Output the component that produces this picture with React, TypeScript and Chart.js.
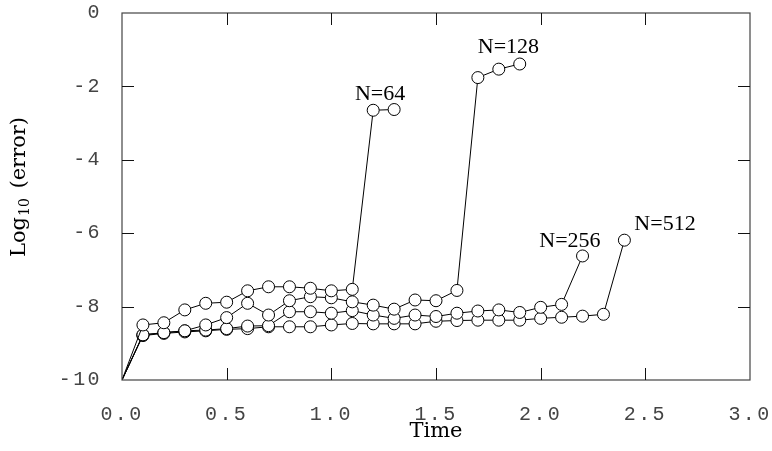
import { useEffect, useRef } from 'react';
import { Chart, registerables } from 'chart.js';

Chart.register(...registerables);

// ---- Data ----
const times64 = [0, 0.1, 0.2, 0.3, 0.4, 0.5, 0.6, 0.7, 0.8, 0.9, 1.0, 1.1, 1.2, 1.3];
const err64 = [-10, -8.50, -8.44, -8.09, -7.91, -7.88, -7.57, -7.46, -7.46, -7.50, -7.57, -7.53, -2.65, -2.63];

const times128 = [0, 0.1, 0.2, 0.3, 0.4, 0.5, 0.6, 0.7, 0.8, 0.9, 1.0, 1.1, 1.2, 1.3, 1.4, 1.5, 1.6, 1.7, 1.8, 1.9];
const err128 = [-10, -8.77, -8.71, -8.66, -8.50, -8.30, -7.91, -8.23, -7.84, -7.73, -7.76, -7.87, -7.96, -8.07, -7.82, -7.84, -7.56, -1.76, -1.53, -1.39];

const times256 = [0, 0.1, 0.2, 0.3, 0.4, 0.5, 0.6, 0.7, 0.8, 0.9, 1.0, 1.1, 1.2, 1.3, 1.4, 1.5, 1.6, 1.7, 1.8, 1.9, 2.0, 2.1, 2.2];
const err256 = [-10, -8.77, -8.71, -8.66, -8.64, -8.60, -8.53, -8.52, -8.14, -8.14, -8.18, -8.11, -8.23, -8.32, -8.23, -8.27, -8.18, -8.12, -8.09, -8.16, -8.02, -7.94, -6.62];

const times512 = [0, 0.1, 0.2, 0.3, 0.4, 0.5, 0.6, 0.7, 0.8, 0.9, 1.0, 1.1, 1.2, 1.3, 1.4, 1.5, 1.6, 1.7, 1.8, 1.9, 2.0, 2.1, 2.2, 2.3, 2.4];
const err512 = [-10, -8.79, -8.73, -8.69, -8.66, -8.62, -8.60, -8.55, -8.55, -8.55, -8.50, -8.46, -8.47, -8.47, -8.47, -8.40, -8.38, -8.37, -8.37, -8.37, -8.32, -8.29, -8.26, -8.21, -6.19];

const seriesNames = ['N=64', 'N=128', 'N=256', 'N=512'];
const seriesTimes = [times64, times128, times256, times512];
const seriesErrors = [err64, err128, err256, err512];

// label anchor positions (data coordinates, centre x / baseline y)
const labelX = [1.233, 1.846, 2.14, 2.594];
const labelY = [-2.37, -1.10, -6.37, -5.91];

const xMin = 0;
const xMax = 3;
const xStep = 0.5;
const yMin = -10;
const yMax = 0;
const yStep = 2;

const xTitle = 'Time';
const yTitleMain = 'Log';
const yTitleSub = '10';
const yTitleRest = ' (error)';

const tickFont = '"Liberation Mono", "DejaVu Sans Mono", monospace';
const serifTitle = '"DejaVu Serif", serif';
const serifLabel = '"Liberation Serif", "Times New Roman", serif';
const tickSpacing = '2.4px';

const spacingPlugin = {
  id: 'tickSpacing',
  beforeLayout(chart: any) {
    chart.ctx.letterSpacing = tickSpacing;
  },
  beforeDraw(chart: any) {
    chart.ctx.letterSpacing = tickSpacing;
  },
};

const framePlugin = {
  id: 'frameAndText',
  afterDraw(chart: any) {
    const { ctx, chartArea, scales } = chart;
    const { left, right, top, bottom } = chartArea;
    const xs = scales.x;
    const ys = scales.y;
    ctx.save();
    ctx.letterSpacing = '0px';
    // frame
    ctx.strokeStyle = '#444';
    ctx.lineWidth = 1.2;
    ctx.strokeRect(left, top, right - left, bottom - top);
    // inward ticks
    ctx.strokeStyle = '#111';
    ctx.lineWidth = 1;
    const tl = 12;
    ctx.beginPath();
    xs.ticks.forEach((t: any) => {
      if (t.value <= xMin || t.value >= xMax) return;
      const px = Math.round(xs.getPixelForValue(t.value)) + 0.5;
      ctx.moveTo(px, bottom);
      ctx.lineTo(px, bottom - tl);
      ctx.moveTo(px, top);
      ctx.lineTo(px, top + tl);
    });
    ys.ticks.forEach((t: any) => {
      if (t.value <= yMin || t.value >= yMax) return;
      const py = Math.round(ys.getPixelForValue(t.value)) + 0.5;
      ctx.moveTo(left, py);
      ctx.lineTo(left + tl, py);
      ctx.moveTo(right, py);
      ctx.lineTo(right - tl, py);
    });
    ctx.stroke();

    // series labels
    ctx.fillStyle = '#000';
    ctx.font = `22px ${serifLabel}`;
    ctx.textAlign = 'center';
    ctx.textBaseline = 'alphabetic';
    seriesNames.forEach((name, i) => {
      ctx.fillText(name, xs.getPixelForValue(labelX[i]), ys.getPixelForValue(labelY[i]));
    });

    // x title
    ctx.font = `21px ${serifTitle}`;
    ctx.fillText(xTitle, (left + right) / 2, 437);

    // y title with subscript, rotated
    ctx.translate(25, 187);
    ctx.rotate(-Math.PI / 2);
    ctx.textAlign = 'left';
    ctx.font = `21px ${serifTitle}`;
    const wMain = ctx.measureText(yTitleMain).width;
    const wRest = ctx.measureText(yTitleRest).width;
    ctx.font = `14px ${serifTitle}`;
    const wSub = ctx.measureText(yTitleSub).width;
    const total = wMain + wSub + 4 + wRest;
    let cx = -total / 2;
    ctx.font = `21px ${serifTitle}`;
    ctx.fillText(yTitleMain, cx, 0);
    cx += wMain + 1;
    ctx.font = `14px ${serifTitle}`;
    ctx.fillText(yTitleSub, cx, 4);
    cx += wSub + 3;
    ctx.font = `21px ${serifTitle}`;
    ctx.fillText(yTitleRest, cx, 0);
    ctx.restore();
  },
};

export default function App() {
  const canvasRef = useRef<HTMLCanvasElement | null>(null);

  useEffect(() => {
    const canvas = canvasRef.current;
    if (!canvas) return;
    const datasets = seriesNames.map((name, i) => ({
      label: name,
      data: seriesTimes[i].map((t, j) => ({ x: t, y: seriesErrors[i][j] })),
      borderColor: '#000',
      borderWidth: 1,
      pointRadius: (c: any) => (c.dataIndex === 0 ? 0 : 6),
      pointBorderColor: '#000',
      pointBorderWidth: 1,
      pointBackgroundColor: '#fff',
      fill: false,
      tension: 0,
    }));
    const hiddenGrid = {
      display: true,
      drawOnChartArea: false,
      drawTicks: true,
      color: 'rgba(0,0,0,0)',
      tickColor: 'rgba(0,0,0,0)',
    };
    const chart = new Chart(canvas, {
      type: 'line',
      data: { datasets },
      options: {
        animation: false,
        responsive: false,
        devicePixelRatio: 1,
        layout: { padding: { top: 13, right: 22, left: 0, bottom: 0 } },
        plugins: {
          legend: { display: false },
          tooltip: { enabled: false },
        },
        scales: {
          x: {
            type: 'linear',
            min: xMin,
            max: xMax,
            grid: { ...hiddenGrid, tickLength: 25 },
            border: { display: false },
            ticks: {
              stepSize: xStep,
              padding: 0,
              color: '#444',
              font: { family: tickFont, size: 20, lineHeight: 1 },
              maxRotation: 0,
              callback: (v: any) => Number(v).toFixed(1),
            },
            afterFit: (s: any) => {
              s.height = 71;
            },
          },
          y: {
            type: 'linear',
            min: yMin,
            max: yMax,
            grid: { ...hiddenGrid, tickLength: 20 },
            border: { display: false },
            ticks: {
              stepSize: yStep,
              padding: 0,
              color: '#444',
              font: { family: tickFont, size: 20, lineHeight: 1 },
              callback: (v: any) => String(v),
            },
            afterFit: (s: any) => {
              s.width = 122;
            },
          },
        },
      },
      plugins: [spacingPlugin, framePlugin],
    });
    return () => chart.destroy();
  }, []);

  return (
    <div style={{ position: 'absolute', left: 0, top: 0, width: 772, height: 451, background: '#fff' }}>
      <canvas ref={canvasRef} width={772} height={451} />
    </div>
  );
}
